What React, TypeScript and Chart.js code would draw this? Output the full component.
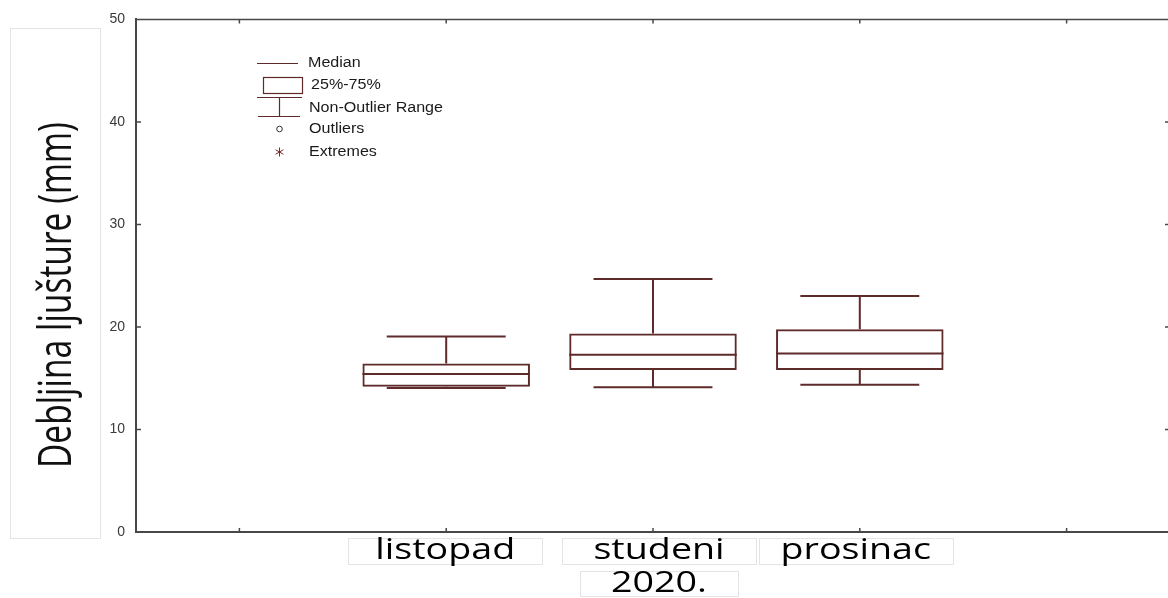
import React, { useEffect, useRef } from 'react';
import { Chart, registerables } from 'chart.js';

Chart.register(...registerables);

// ---- data ----
const categories = ['', 'listopad', 'studeni', 'prosinac', ''];
const whiskerLow: (number | null)[] = [null, 14.05, 14.11, 14.37, null];
const quartile1: (number | null)[] = [null, 14.17, 15.79, 15.8, null];
const medians: (number | null)[] = [null, 15.41, 17.28, 17.41, null];
const quartile3: (number | null)[] = [null, 16.44, 19.35, 19.78, null];
const whiskerHigh: (number | null)[] = [null, 19.06, 24.69, 23.01, null];
const yTickValues = [0, 10, 20, 30, 40, 50];
const groupLabel = '2020.';
const yTitle = 'Debljina ljušture (mm)';
const legendLabels = ['Median', '25%-75%', 'Non-Outlier Range', 'Outliers', 'Extremes'];

// ---- style ----
const BOX_COLOR = '#5e2a2a';
const AXIS_COLOR = '#474747';
const LABEL_BOX = '#e4e4e4';

function drawScaledText(
  ctx: CanvasRenderingContext2D,
  text: string,
  cx: number,
  cy: number,
  sx: number,
  align: CanvasTextAlign = 'center'
) {
  ctx.save();
  ctx.translate(cx, cy);
  ctx.scale(sx, 1);
  ctx.textAlign = align;
  ctx.textBaseline = 'middle';
  ctx.fillText(text, 0, 0);
  ctx.restore();
}

const extras = {
  id: 'boxExtras',
  afterDatasetsDraw(chart: any) {
    const ctx: CanvasRenderingContext2D = chart.ctx;
    const xs = chart.scales.x;
    const ys = chart.scales.y;
    const meta = chart.getDatasetMeta(0);
    ctx.save();
    ctx.strokeStyle = BOX_COLOR;
    ctx.lineWidth = 2;
    categories.forEach((_, i) => {
      const med = medians[i];
      if (med == null) return;
      const bar = meta.data[i];
      const cx = xs.getPixelForValue(i);
      const w = bar.width;
      const cw = w * 0.71;
      const yMed = ys.getPixelForValue(med);
      const yQ1 = ys.getPixelForValue(quartile1[i] as number);
      const yQ3 = ys.getPixelForValue(quartile3[i] as number);
      const yLo = ys.getPixelForValue(whiskerLow[i] as number);
      const yHi = ys.getPixelForValue(whiskerHigh[i] as number);
      ctx.beginPath();
      ctx.moveTo(cx - w / 2, yMed);
      ctx.lineTo(cx + w / 2, yMed);
      // upper whisker
      ctx.moveTo(cx, yQ3);
      ctx.lineTo(cx, yHi);
      ctx.moveTo(cx - cw / 2, yHi);
      ctx.lineTo(cx + cw / 2, yHi);
      // lower whisker
      ctx.moveTo(cx, yQ1);
      ctx.lineTo(cx, yLo);
      ctx.moveTo(cx - cw / 2, yLo);
      ctx.lineTo(cx + cw / 2, yLo);
      ctx.stroke();
    });
    ctx.restore();
  },
  afterDraw(chart: any) {
    const ctx: CanvasRenderingContext2D = chart.ctx;
    const { left, right, top, bottom } = chart.chartArea;
    const xs = chart.scales.x;
    const ys = chart.scales.y;
    ctx.save();

    // top frame line
    ctx.strokeStyle = AXIS_COLOR;
    ctx.lineWidth = 1.5;
    ctx.beginPath();
    ctx.moveTo(left, top);
    ctx.lineTo(right, top);
    ctx.stroke();

    // inner tick marks
    ctx.lineWidth = 1.5;
    ctx.beginPath();
    yTickValues.forEach((v) => {
      if (v === 0 || v === 50) return;
      const y = ys.getPixelForValue(v);
      ctx.moveTo(left, y);
      ctx.lineTo(left + 5, y);
      ctx.moveTo(right, y);
      ctx.lineTo(right - 5, y);
    });
    categories.forEach((_, i) => {
      const x = xs.getPixelForValue(i);
      ctx.moveTo(x, bottom);
      ctx.lineTo(x, bottom - 4);
      ctx.moveTo(x, top);
      ctx.lineTo(x, top + 4);
    });
    ctx.stroke();

    // y title box + text
    ctx.strokeStyle = LABEL_BOX;
    ctx.lineWidth = 1;
    ctx.strokeRect(10.5, 28.5, 90, 510);
    ctx.fillStyle = '#111';
    ctx.font = '35px "Open Sans", sans-serif';
    const tw = ctx.measureText(yTitle).width;
    ctx.save();
    ctx.translate(58, 295);
    ctx.rotate(-Math.PI / 2);
    ctx.scale(346 / tw, 1.3);
    ctx.textAlign = 'center';
    ctx.textBaseline = 'middle';
    ctx.fillText(yTitle, 0, 0);
    ctx.restore();

    // x labels in boxes
    ctx.font = '29px "Open Sans", sans-serif';
    const sx = 140 / ctx.measureText('listopad').width;
    const labelOffsets = [0, -1, 6, -4, 0];
    categories.forEach((c, i) => {
      if (!c) return;
      const cx = xs.getPixelForValue(i) + labelOffsets[i];
      ctx.strokeStyle = LABEL_BOX;
      ctx.lineWidth = 1;
      ctx.strokeRect(Math.round(cx - 97) + 0.5, 538.5, 194, 26);
      ctx.fillStyle = '#000';
      drawScaledText(ctx, c, cx, 551, sx);
    });
    // group label
    const gx = xs.getPixelForValue(2) + 6;
    ctx.strokeStyle = LABEL_BOX;
    ctx.strokeRect(Math.round(gx - 79) + 0.5, 571.5, 158, 25);
    ctx.fillStyle = '#000';
    drawScaledText(ctx, groupLabel, gx, 584, sx);

    // legend
    ctx.strokeStyle = BOX_COLOR;
    ctx.lineWidth = 1.2;
    ctx.beginPath();
    ctx.moveTo(257, 63.5);
    ctx.lineTo(298, 63.5);
    ctx.stroke();
    ctx.strokeRect(263.5, 77.5, 39, 16);
    ctx.beginPath();
    ctx.moveTo(257, 97.5);
    ctx.lineTo(302, 97.5);
    ctx.moveTo(279.5, 97.5);
    ctx.lineTo(279.5, 116.5);
    ctx.moveTo(258, 116.5);
    ctx.lineTo(300, 116.5);
    ctx.stroke();
    ctx.strokeStyle = '#333';
    ctx.lineWidth = 1;
    ctx.beginPath();
    ctx.arc(279.5, 129, 2.8, 0, Math.PI * 2);
    ctx.stroke();
    // asterisk
    ctx.strokeStyle = '#7a2a2a';
    ctx.beginPath();
    for (let k = 0; k < 3; k++) {
      const a = (Math.PI / 3) * k + Math.PI / 2;
      ctx.moveTo(279.5 - Math.cos(a) * 4.5, 152 - Math.sin(a) * 4.5);
      ctx.lineTo(279.5 + Math.cos(a) * 4.5, 152 + Math.sin(a) * 4.5);
    }
    ctx.stroke();

    ctx.fillStyle = '#1a1a1a';
    ctx.font = '14px "Liberation Sans", Arial, sans-serif';
    const lsx = 134 / ctx.measureText('Non-Outlier Range').width;
    const legendY = [63, 85, 108, 129, 152];
    const legendX = [308, 311, 309, 309, 309];
    legendLabels.forEach((t, i) => drawScaledText(ctx, t, legendX[i], legendY[i], lsx, 'left'));

    ctx.restore();
  },
};

export default function App() {
  const ref = useRef<HTMLCanvasElement>(null);
  useEffect(() => {
    const canvas = ref.current!;
    const boxes = categories.map((_, i) =>
      quartile1[i] == null ? null : [quartile1[i] as number, quartile3[i] as number]
    );
    const chart = new Chart(canvas, {
      type: 'bar',
      data: {
        labels: categories,
        datasets: [
          {
            data: boxes as any,
            backgroundColor: 'rgba(255,255,255,0)',
            borderColor: BOX_COLOR,
            borderWidth: 2,
            borderSkipped: false,
            barPercentage: 0.81,
            categoryPercentage: 1,
          },
        ],
      },
      options: {
        responsive: false,
        animation: false,
        devicePixelRatio: 1,
        layout: { padding: { left: 0, right: 0, top: 17, bottom: 66 } },
        plugins: { legend: { display: false }, tooltip: { enabled: false } },
        scales: {
          x: {
            ticks: { display: false },
            grid: { display: false },
            border: { display: true, color: AXIS_COLOR, width: 2 },
            afterFit(s: any) {
              s.height = 0;
            },
          },
          y: {
            min: 0,
            max: 50,
            ticks: {
              stepSize: 10,
              padding: 11,
              color: '#3a3a3a',
              font: { family: '"Liberation Sans", Arial, sans-serif', size: 14 },
            },
            grid: { display: false, drawTicks: false },
            border: { display: true, color: AXIS_COLOR, width: 2 },
            afterFit(s: any) {
              s.width = 136;
            },
          },
        },
      },
      plugins: [extras],
    });
    return () => chart.destroy();
  }, []);

  return (
    <div
      style={{
        position: 'fixed',
        left: 0,
        top: 0,
        width: 1168,
        height: 598,
        overflow: 'hidden',
        background: '#fff',
      }}
    >
      <canvas ref={ref} width={1170} height={598} style={{ display: 'block' }} />
    </div>
  );
}
